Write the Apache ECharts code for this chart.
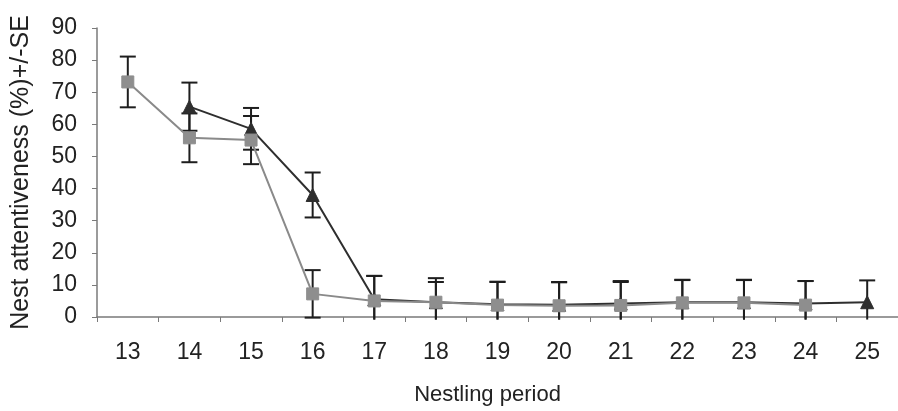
<!DOCTYPE html>
<html>
<head>
<meta charset="utf-8">
<style>
  html, body { margin: 0; padding: 0; background: #fff; }
  #chart { width: 898px; height: 411px; }
</style>
<script src="https://cdn.jsdelivr.net/npm/echarts@6/dist/echarts.min.js"></script>
</head>
<body>
<div id="chart"></div>
<script>
// Nestling period (days)
const categories = ['13', '14', '15', '16', '17', '18', '19', '20', '21', '22', '23', '24', '25'];

// Dark series (triangles): mean attentiveness and standard error
const darkMean = [null, 65.5, 58.6, 38.0, 5.5, 4.6, 4.0, 3.8, 4.2, 4.6, 4.6, 4.2, 4.6];
const darkSE   = [null, 7.5, 6.5, 7.0, 7.3, 7.5, 7.0, 7.0, 7.0, 7.0, 7.0, 7.0, 6.8];

// Grey series (squares): mean attentiveness and standard error
const greyMean = [73.2, 55.8, 55.1, 7.2, 5.0, 4.6, 3.7, 3.5, 3.6, 4.4, 4.4, 3.7, null];
const greySE   = [7.9, 7.6, 7.5, 7.4, 7.8, 6.3, 7.2, 7.4, 7.3, 7.1, 7.1, 7.5, null];

const FONT = '"Liberation Sans", Arial, sans-serif';
const TEXT = '#222';

function errorData(mean, se) {
  const out = [];
  mean.forEach((m, i) => {
    if (m != null) out.push([i, m - se[i], m + se[i]]);
  });
  return out;
}

// Error bar renderer: vertical whisker with caps; the lower whisker stops
// just below the x axis (values under -0.8 are cut off, without a cap).
function renderError(params, api) {
  const x = api.value(0);
  const lo = api.value(1);
  const hi = api.value(2);
  const floor = -0.8;
  const loC = Math.max(lo, floor);
  const pHi = api.coord([x, hi]);
  const pLo = api.coord([x, loC]);
  const half = 8;
  const style = { stroke: '#1e1e1e', lineWidth: 2 };
  const children = [
    { type: 'line', shape: { x1: pHi[0], y1: pHi[1], x2: pLo[0], y2: pLo[1] }, style },
    { type: 'line', shape: { x1: pHi[0] - half, y1: pHi[1], x2: pHi[0] + half, y2: pHi[1] }, style }
  ];
  if (lo >= floor) {
    children.push({ type: 'line', shape: { x1: pLo[0] - half, y1: pLo[1], x2: pLo[0] + half, y2: pLo[1] }, style });
  }
  return { type: 'group', children };
}

const chart = echarts.init(document.getElementById('chart'), null, { renderer: 'canvas' });

chart.setOption({
  animation: false,
  backgroundColor: '#fff',
  grid: { left: 97, right: -7, top: 28, bottom: 94 },
  xAxis: {
    type: 'category',
    data: categories,
    boundaryGap: true,
    name: 'Nestling period',
    nameLocation: 'middle',
    nameGap: 67,
    nameTextStyle: { fontFamily: FONT, fontSize: 22, color: TEXT, padding: [0, 20, 0, 0] },
    axisLine: { lineStyle: { color: '#7a7a7a', width: 1.5 } },
    axisTick: { show: true, alignWithLabel: false, length: 5, lineStyle: { color: '#7a7a7a' } },
    axisLabel: { margin: 24, fontFamily: FONT, fontSize: 23, color: TEXT },
    splitLine: { show: false }
  },
  yAxis: {
    type: 'value',
    min: 0,
    max: 90,
    interval: 10,
    name: 'Nest attentiveness (%)+/-SE',
    nameLocation: 'middle',
    nameGap: 63,
    nameTextStyle: { fontFamily: FONT, fontSize: 25, color: TEXT },
    axisLine: { show: true, lineStyle: { color: '#7a7a7a', width: 1.5 } },
    axisTick: { show: true, length: 5, lineStyle: { color: '#7a7a7a' } },
    axisLabel: { margin: 20, fontFamily: FONT, fontSize: 23, color: TEXT },
    splitLine: { show: false }
  },
  series: [
    {
      name: 'grey-err',
      type: 'custom',
      renderItem: renderError,
      data: errorData(greyMean, greySE),
      encode: { x: 0, y: [1, 2] },
      clip: false,
      z: 2
    },
    {
      name: 'dark-err',
      type: 'custom',
      renderItem: renderError,
      data: errorData(darkMean, darkSE),
      encode: { x: 0, y: [1, 2] },
      clip: false,
      z: 2
    },
    {
      name: 'dark',
      type: 'line',
      data: darkMean,
      symbol: 'triangle',
      symbolSize: 13,
      connectNulls: false,
      lineStyle: { color: '#2e2e2e', width: 2 },
      itemStyle: { color: '#2e2e2e', borderColor: '#2e2e2e' },
      z: 3
    },
    {
      name: 'grey',
      type: 'line',
      data: greyMean,
      symbol: 'rect',
      symbolSize: 12,
      lineStyle: { color: '#8a8a8a', width: 2 },
      itemStyle: { color: '#8e8e8e', borderColor: '#8e8e8e' },
      z: 4
    }
  ]
});
</script>
</body>
</html>
